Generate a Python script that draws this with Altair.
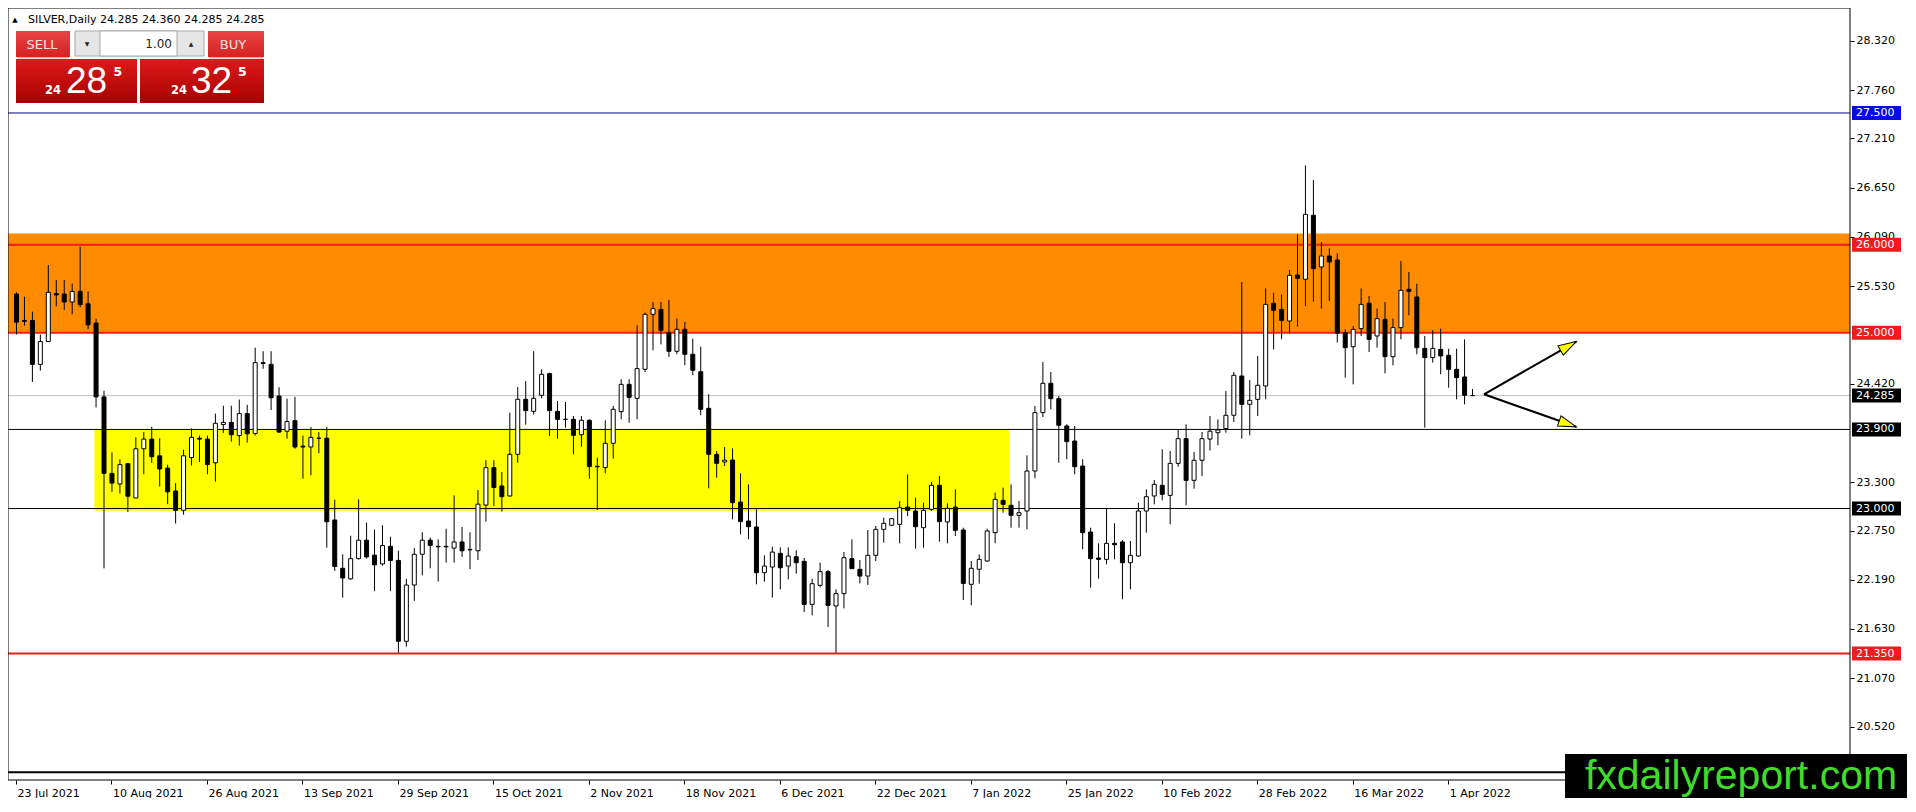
import math
import altair as alt
import pandas as pd

# ---------------- data ----------------
opens = [25.44, 25.14, 25.14, 24.64, 24.90, 25.445, 25.44, 25.35, 25.47, 25.33,
         25.11, 24.27, 23.40, 23.28, 23.51, 23.12, 23.68, 23.79, 23.60, 23.46,
         23.20, 22.98, 23.58, 23.80, 23.79, 23.52, 23.955, 23.98, 23.83, 24.08,
         23.855, 24.65, 24.64, 24.28, 23.88, 24.00, 23.71, 23.70, 23.80, 23.80,
         22.87, 22.32, 22.20, 22.43, 22.64, 22.47, 22.37, 22.57, 22.41, 21.49,
         22.13, 22.48, 22.64, 22.57, 22.565, 22.55, 22.62, 22.535, 22.52, 23.04,
         23.465, 23.257, 23.143, 23.617, 24.243, 24.106, 24.288, 24.535, 24.106, 24.015,
         24.015, 23.84, 24.004, 23.48, 23.465, 23.742, 24.102, 24.413, 24.254, 24.584,
         25.21, 25.266, 25.0, 24.789, 25.039, 24.755, 24.557, 24.14, 23.617, 23.53,
         23.552, 23.074, 22.858, 22.79, 22.27, 22.335, 22.49, 22.346, 22.452, 22.399,
         21.91, 22.126, 22.282, 21.891, 22.032, 22.43, 22.308, 22.232, 22.468, 22.763,
         22.81, 22.82, 23.017, 22.972, 22.782, 22.991, 23.264, 22.847, 23.017, 22.756,
         22.138, 22.309, 22.403, 22.726, 23.093, 23.037, 22.923, 22.972, 23.427, 24.091,
         24.425, 24.25, 23.939, 23.768, 23.484, 22.733, 22.437, 22.422, 22.604, 22.62,
         22.384, 22.46, 22.972, 23.143, 23.264, 23.15, 23.514, 23.795, 23.321, 23.549,
         23.79, 23.863, 23.909, 24.061, 24.508, 24.186, 24.242, 24.394, 25.335, 25.266,
         25.134, 25.657, 25.608, 26.336, 25.748, 25.873, 25.828, 25.001, 24.841, 25.047,
         25.335, 24.963, 25.153, 24.728, 25.058, 25.494, 25.407, 24.822, 24.717, 24.811,
         24.743, 24.584, 24.497, 24.285]
highs = [25.46, 25.41, 25.24, 24.98, 25.77, 25.60, 25.60, 25.56, 25.98, 25.47,
         25.16, 24.34, 23.64, 23.56, 23.52, 23.81, 23.87, 23.93, 23.80, 23.50,
         23.29, 23.67, 23.91, 23.83, 23.83, 24.08, 24.17, 24.17, 24.24, 24.18,
         24.83, 24.79, 24.79, 24.38, 24.25, 24.27, 23.83, 23.93, 23.87, 23.93,
         23.10, 22.48, 22.69, 23.105, 22.84, 22.76, 22.81, 22.68, 22.52, 22.20,
         22.55, 22.73, 22.67, 22.65, 22.77, 23.15, 22.79, 22.73, 23.21, 23.55,
         23.55, 23.416, 24.091, 24.383, 24.45, 24.79, 24.584, 24.546, 24.224, 24.212,
         24.053, 24.053, 24.015, 23.579, 24.004, 24.167, 24.47, 24.47, 25.085, 25.229,
         25.35, 25.35, 25.373, 25.164, 25.122, 24.933, 24.842, 24.30, 23.655, 23.70,
         23.685, 23.40, 23.275, 23.002, 22.468, 22.566, 22.559, 22.559, 22.525, 22.437,
         22.202, 22.384, 22.301, 22.081, 22.506, 22.65, 22.415, 22.756, 22.801, 22.896,
         22.885, 23.086, 23.389, 23.124, 23.067, 23.302, 23.37, 23.059, 23.219, 22.782,
         22.403, 22.479, 22.771, 23.181, 23.237, 23.275, 23.086, 23.605, 24.167, 24.667,
         24.553, 24.28, 23.958, 23.939, 23.56, 22.782, 22.604, 22.999, 22.832, 22.642,
         22.631, 23.067, 23.218, 23.325, 23.674, 23.655, 23.901, 23.958, 23.643, 23.871,
         24.053, 24.015, 24.337, 24.553, 25.577, 24.462, 24.736, 25.505, 25.456, 25.437,
         25.714, 26.12, 26.904, 26.738, 26.032, 25.96, 25.904, 25.039, 25.077, 25.505,
         25.418, 25.274, 25.35, 25.164, 25.816, 25.691, 25.558, 24.963, 25.031, 25.047,
         24.819, 24.819, 24.925, 24.36]
lows = [24.98, 25.08, 24.44, 24.57, 24.90, 25.30, 25.26, 25.21, 25.29, 25.04,
        24.15, 22.32, 23.19, 23.17, 22.96, 23.12, 23.39, 23.52, 23.25, 23.05,
        22.83, 22.93, 23.49, 23.53, 23.39, 23.305, 23.86, 23.76, 23.715, 23.75,
        23.83, 24.59, 24.12, 23.86, 23.795, 23.68, 23.34, 23.38, 23.63, 22.555,
        22.29, 21.986, 22.19, 22.42, 22.43, 22.06, 22.35, 22.06, 21.36, 21.43,
        21.95, 22.24, 22.32, 22.17, 22.385, 22.385, 22.45, 22.31, 22.415, 22.85,
        23.03, 22.965, 23.135, 23.522, 23.954, 24.068, 24.254, 23.826, 23.795, 23.92,
        23.617, 23.704, 23.34, 22.984, 23.401, 23.568, 24.015, 23.977, 24.015, 24.554,
        24.80, 24.868, 24.724, 24.755, 24.63, 24.516, 24.061, 23.23, 23.351, 23.484,
        22.877, 22.707, 22.65, 22.138, 22.168, 21.986, 22.081, 22.195, 22.259, 21.823,
        21.785, 22.104, 21.652, 21.36, 21.865, 22.316, 22.149, 22.13, 22.403, 22.612,
        22.80, 22.604, 22.915, 22.543, 22.555, 22.972, 22.623, 22.604, 22.688, 21.96,
        21.899, 22.145, 22.396, 22.604, 22.953, 22.782, 22.782, 22.764, 23.344, 24.041,
        24.129, 23.522, 23.56, 23.389, 22.536, 22.1, 22.202, 22.365, 22.422, 21.967,
        22.081, 22.452, 22.726, 23.048, 23.093, 22.821, 23.476, 23.037, 23.226, 23.37,
        23.66, 23.72, 23.863, 23.985, 23.795, 23.833, 24.053, 24.242, 24.811, 24.925,
        24.994, 25.069, 25.304, 25.354, 25.274, 25.361, 24.888, 24.489, 24.413, 24.963,
        24.781, 24.83, 24.538, 24.629, 24.925, 25.198, 24.754, 23.92, 24.66, 24.527,
        24.375, 24.242, 24.185, 24.285]
closes = [25.12, 25.13, 24.64, 24.90, 25.46, 25.43, 25.35, 25.47, 25.32, 25.09,
          24.27, 23.40, 23.29, 23.50, 23.14, 23.68, 23.79, 23.59, 23.45, 23.19,
          22.98, 23.60, 23.81, 23.79, 23.50, 23.97, 23.98, 23.84, 24.08, 23.85,
          24.66, 24.66, 24.26, 23.87, 23.99, 23.70, 23.70, 23.81, 23.80, 22.85,
          22.34, 22.21, 22.43, 22.64, 22.45, 22.36, 22.58, 22.41, 21.49, 22.13,
          22.48, 22.64, 22.58, 22.565, 22.57, 22.62, 22.52, 22.53, 23.05, 23.465,
          23.24, 23.135, 23.617, 24.243, 24.114, 24.254, 24.527, 24.114, 24.015, 24.015,
          23.833, 24.004, 23.477, 23.475, 23.742, 24.129, 24.413, 24.265, 24.592, 25.21,
          25.274, 25.028, 24.789, 25.039, 24.755, 24.573, 24.129, 23.617, 23.515, 23.55,
          23.067, 22.851, 22.794, 22.27, 22.346, 22.505, 22.327, 22.46, 22.384, 21.91,
          22.145, 22.282, 21.899, 22.032, 22.441, 22.316, 22.232, 22.468, 22.763, 22.832,
          22.885, 23.01, 22.98, 22.794, 22.98, 23.264, 22.851, 23.002, 22.752, 22.149,
          22.32, 22.422, 22.745, 23.105, 23.048, 22.923, 22.953, 23.427, 24.091, 24.425,
          24.25, 23.947, 23.761, 23.476, 22.726, 22.43, 22.422, 22.604, 22.589, 22.384,
          22.468, 22.972, 23.135, 23.275, 23.162, 23.514, 23.795, 23.321, 23.549, 23.795,
          23.88, 23.894, 24.061, 24.516, 24.186, 24.231, 24.402, 25.323, 25.255, 25.141,
          25.653, 25.619, 26.347, 25.729, 25.873, 25.805, 24.994, 24.83, 25.039, 25.323,
          24.925, 25.16, 24.728, 25.058, 25.483, 25.471, 24.83, 24.717, 24.822, 24.736,
          24.584, 24.489, 24.288, 24.285]

date_labels = ["23 Jul 2021", "10 Aug 2021", "26 Aug 2021", "13 Sep 2021", "29 Sep 2021",
               "15 Oct 2021", "2 Nov 2021", "18 Nov 2021", "6 Dec 2021", "22 Dec 2021",
               "7 Jan 2022", "25 Jan 2022", "10 Feb 2022", "28 Feb 2022", "16 Mar 2022",
               "1 Apr 2022"]
date_label_bars = [0, 12, 24, 36, 48, 60, 72, 84, 96, 108, 120, 132, 144, 156, 168, 180]
# grid prices visible on the right scale (24.970 / 23.860 are hidden by tags in the reference)
price_ticks = [28.32, 27.76, 27.21, 26.65, 26.09, 25.53, 24.42, 23.30,
               22.75, 22.19, 21.63, 21.07, 20.52]

level_prices = [27.5, 26.0, 25.0, 24.285, 23.9, 23.0, 21.35, 20.0]
level_colors = ["#000090", "#ee1c1c", "#ee1c1c", "#c0c0c0", "#000000", "#000000", "#ee1c1c", "#000000"]
level_widths = [1, 2, 2, 1, 1, 1, 2, 2]
tag_prices = [27.5, 26.0, 25.0, 24.285, 23.9, 23.0, 21.35]
tag_colors = ["#0a0ae6", "#ee1c1c", "#ee1c1c", "#000000", "#000000", "#000000", "#ee1c1c"]

resistance_zone = [25.0, 26.13]
support_zone = [22.975, 23.9]
support_zone_bars = [9.85, 124.85]

arrow_bars = [184.5, 196.1]
arrow_up = [24.30, 24.90]
arrow_down = [24.30, 23.93]

header_text = "SILVER,Daily 24.285 24.360 24.285 24.285"
bid_parts = ["24", "28", "5"]
ask_parts = ["24", "32", "5"]
lot_text = "1.00"
watermark = "fxdailyreport.com"

# ---------------- layout ----------------
W, H = 1842, 772
PX_BAR = 8.0
PX_PRICE = 87.9
x_dom = [-3 / PX_BAR, -3 / PX_BAR + W / PX_BAR]
y_top = 28.6945
y_dom = [y_top - H / PX_PRICE, y_top]
FONT = "DejaVu Sans"

xs = alt.Scale(domain=x_dom, nice=False, zero=False)
ys = alt.Scale(domain=y_dom, nice=False, zero=False)

label_expr = "[" + ",".join("'%s'" % s for s in date_labels) + "][round(datum.value / 12)]"
x_axis = alt.Axis(values=date_label_bars, labelExpr=label_expr, title=None, grid=False,
                  domain=False, tickColor="black", tickSize=4, tickWidth=1,
                  labelAlign="left", labelBaseline="top", labelPadding=3, labelOffset=1,
                  labelFont=FONT, labelFontSize=11, labelColor="black",
                  labelOverlap=False, labelFlush=False, labelBound=False)
y_axis = alt.Axis(orient="right", values=price_ticks, format=".3f", title=None, grid=False,
                  domain=False, tickColor="black", tickSize=4, tickWidth=1, labelPadding=2,
                  labelFont=FONT, labelFontSize=11, labelColor="black",
                  labelOverlap=False, labelFlush=False, labelBound=False)


def X(f):
    return alt.X(f, scale=xs, axis=x_axis)


def Y(f):
    return alt.Y(f, scale=ys, axis=y_axis)


df = pd.DataFrame({"i": list(range(len(opens))), "o": opens, "h": highs, "l": lows, "c": closes})
df["top"] = df[["o", "c"]].max(axis=1)
df["bot"] = df[["o", "c"]].min(axis=1)
df["fill"] = ["#ffffff" if c > o else "#000000" for o, c in zip(opens, closes)]

# zones
orange = alt.Chart(pd.DataFrame({"lo": [resistance_zone[0]], "hi": [resistance_zone[1]]})).mark_rect(
    color="#ff8c00").encode(x=alt.value(0), x2=alt.value(W), y=Y("lo:Q"), y2="hi:Q")
yellow = alt.Chart(pd.DataFrame({"a": [support_zone_bars[0]], "b": [support_zone_bars[1]],
                                 "lo": [support_zone[0]], "hi": [support_zone[1]]})).mark_rect(
    color="#ffff00").encode(x=X("a:Q"), x2="b:Q", y=Y("lo:Q"), y2="hi:Q")

levels = alt.Chart(pd.DataFrame({"p": level_prices, "col": level_colors, "w": level_widths})).mark_rule().encode(
    x=alt.value(0), x2=alt.value(W), y=Y("p:Q"),
    color=alt.Color("col:N", scale=None), strokeWidth=alt.StrokeWidth("w:Q", scale=None))

base = alt.Chart(df)
wicks = base.mark_rule(color="black", strokeWidth=1, xOffset=0.5).encode(
    x=X("i:Q"), y=Y("l:Q"), y2="h:Q")
bodies = base.mark_bar(size=4, stroke="black", strokeWidth=1, xOffset=0.5).encode(
    x=X("i:Q"), y=Y("bot:Q"), y2="top:Q", fill=alt.Fill("fill:N", scale=None))

# arrows
arr_rows = []
for g, ys_ in (("up", arrow_up), ("down", arrow_down)):
    for b, p in zip(arrow_bars, ys_):
        arr_rows.append({"b": b, "p": p, "g": g})
arr_df = pd.DataFrame(arr_rows)
arrow_lines = alt.Chart(arr_df).mark_line(color="black", strokeWidth=2).encode(
    x=X("b:Q"), y=Y("p:Q"), detail="g:N")
heads = []
for ys_ in (arrow_up, arrow_down):
    dx = (arrow_bars[1] - arrow_bars[0]) * PX_BAR
    dy = -(ys_[1] - ys_[0]) * PX_PRICE
    heads.append({"b": arrow_bars[1], "p": ys_[1], "ang": math.degrees(math.atan2(dy, dx)) % 360})
arrow_heads = alt.Chart(pd.DataFrame(heads)).mark_point(
    shape="M0,0 L-2,-0.6 L-2,0.6 Z", size=324, filled=True, color="#ffff00",
    stroke="black", strokeWidth=1, opacity=1).encode(
    x=X("b:Q"), y=Y("p:Q"), angle=alt.Angle("ang:Q", scale=None))

# price tags on the right axis
hh = 7.0 / PX_PRICE
tag_df = pd.DataFrame({"p": tag_prices, "col": tag_colors,
                       "t": [p + hh for p in tag_prices], "b": [p - hh for p in tag_prices],
                       "txt": ["%.3f" % p for p in tag_prices]})
tag_boxes = alt.Chart(tag_df).mark_rect().encode(
    x=alt.value(W + 2), x2=alt.value(W + 51), y=Y("t:Q"), y2="b:Q",
    color=alt.Color("col:N", scale=None))
tag_text = alt.Chart(tag_df).mark_text(align="left", baseline="middle", color="white",
                                       font=FONT, fontSize=11).encode(
    x=alt.value(W + 6), y=Y("p:Q"), text="txt:N")

border = alt.Chart(pd.DataFrame({"k": [0]})).mark_rect(fill="transparent", stroke="black", strokeWidth=1).encode(
    x=alt.value(0), x2=alt.value(W), y=alt.value(0), y2=alt.value(H))

# ---------------- UI overlay (trade panel, header, watermark) ----------------
one = pd.DataFrame({"k": [0]})


def ui_rect(x0, x1, y0, y1, **kw):
    return alt.Chart(one).mark_rect(**kw).encode(
        x=alt.value(x0), x2=alt.value(x1), y=alt.value(y0), y2=alt.value(y1))


def ui_text(x, y, s, **kw):
    return alt.Chart(one).mark_text(text=s, **kw).encode(x=alt.value(x), y=alt.value(y))


grad_btn = alt.Gradient(gradient="linear", x1=0, y1=0, x2=0, y2=1,
                        stops=[alt.GradientStop(offset=0, color="#ea4444"),
                               alt.GradientStop(offset=1, color="#d42222")])
grad_box = alt.Gradient(gradient="linear", x1=0, y1=0, x2=0, y2=1,
                        stops=[alt.GradientStop(offset=0, color="#dc1a1a"),
                               alt.GradientStop(offset=1, color="#a80000")])

ui = [
    ui_text(7, 12, "\u25b2", font=FONT, fontSize=7, color="black", align="center", baseline="middle"),
    ui_text(20, 12, header_text, font=FONT, fontSize=11, color="black", align="left", baseline="middle"),
    ui_rect(8, 62, 23, 49, color=grad_btn),
    ui_rect(9, 61, 49, 50.5, color="#f4a8a8"),
    ui_rect(8, 129, 51, 95, color=grad_box),
    ui_rect(200, 256, 23, 49, color=grad_btn),
    ui_rect(201, 255, 49, 50.5, color="#f4a8a8"),
    ui_rect(132, 256, 51, 95, color=grad_box),
    ui_rect(67, 196, 23, 48, color="#e6e6e6", stroke="#a8a8a8", strokeWidth=1),
    ui_rect(92, 169, 23, 48, color="#ffffff", stroke="#a8a8a8", strokeWidth=1),
    ui_text(79, 36, "\u25bc", font=FONT, fontSize=6, color="#222222", align="center", baseline="middle"),
    ui_text(183, 36, "\u25b2", font=FONT, fontSize=6, color="#222222", align="center", baseline="middle"),
    ui_text(164, 36, lot_text, font=FONT, fontSize=12, color="#222222", align="right", baseline="middle"),
    ui_text(34, 37, "SELL", font=FONT, fontSize=13, color="#ffe2e2", align="center", baseline="middle"),
    ui_text(225, 37, "BUY", font=FONT, fontSize=13, color="#ffe2e2", align="center", baseline="middle"),
    ui_text(37, 85.5, bid_parts[0], font=FONT, fontSize=11.5, fontWeight="bold", color="white", align="left", baseline="alphabetic"),
    ui_text(58, 85, bid_parts[1], font="Liberation Sans", fontSize=37, color="white", align="left", baseline="alphabetic"),
    ui_text(105.5, 68, bid_parts[2], font=FONT, fontSize=12.5, fontWeight="bold", color="white", align="left", baseline="alphabetic"),
    ui_text(163, 85.5, ask_parts[0], font=FONT, fontSize=11.5, fontWeight="bold", color="white", align="left", baseline="alphabetic"),
    ui_text(183, 85, ask_parts[1], font="Liberation Sans", fontSize=37, color="white", align="left", baseline="alphabetic"),
    ui_text(230, 68, ask_parts[2], font=FONT, fontSize=12.5, fontWeight="bold", color="white", align="left", baseline="alphabetic"),
    ui_rect(1557, W + 57, 746, H + 18, color="black"),
    ui_text(1733, 781, watermark, font="Liberation Sans", fontSize=41, color="#40dc28", align="center", baseline="alphabetic"),
]

chart = alt.layer(
    orange, yellow, levels, wicks, bodies, arrow_lines, arrow_heads, border,
    tag_boxes, tag_text, *ui
).properties(
    width=W, height=H,
    autosize=alt.AutoSizeParams(type="none"),
    padding={"left": 0, "top": 0, "right": 57, "bottom": 18},
    background="white",
).configure_view(stroke=None)

chart.save("out.html", embed_options={"renderer": "svg", "actions": False})
